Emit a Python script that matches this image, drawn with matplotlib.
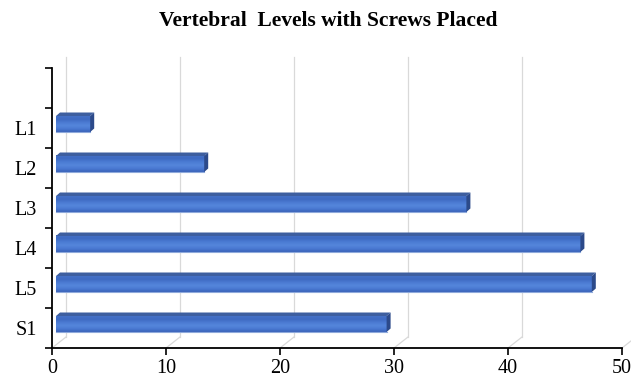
import numpy as np
import matplotlib
matplotlib.use("Agg")
import matplotlib.pyplot as plt
from matplotlib.patches import Polygon
from matplotlib.colors import LinearSegmentedColormap

# Vertebral levels, listed bottom to top, with an empty slot above L1
levels = ["S1", "L5", "L4", "L3", "L2", "L1", ""]
screws = [29, 47, 46, 36, 13, 3, None]
xticks = [0, 10, 20, 30, 40, 50]

serif = ["Liberation Serif", "DejaVu Serif"]

W, H = 631, 378
fig = plt.figure(figsize=(W / 100, H / 100), dpi=100)
ax_left, ax_right = 52 / W, 622 / W
ax_bot, ax_top = (H - 348) / H, (H - 68) / H
ax = fig.add_axes([ax_left, ax_bot, ax_right - ax_left, ax_top - ax_bot])

xmax = 50
nslots = len(levels)
ax.set_xlim(0, xmax)
ax.set_ylim(0, nslots)

px_x = xmax / (622 - 52)          # data units per pixel horizontally
px_y = nslots / (348 - 68)        # slot units per pixel vertically

# back-wall depth offset of the 3D box
wall_dx, wall_dy = 14 * px_x, 11 * px_y
grid_col = "#D9D9D9"
for xv in xticks:
    ax.plot([xv, xv + wall_dx], [0, wall_dy], color=grid_col, lw=0.9,
            clip_on=False, zorder=1)
    ax.plot([xv + wall_dx, xv + wall_dx], [wall_dy, nslots + wall_dy],
            color=grid_col, lw=0.9, clip_on=False, zorder=1)

# bar geometry
bar_ox, bar_oy = 4 * px_x, 4 * px_y       # bar sits part way into the depth
bar_h = 16 * px_y
bar_dx, bar_dy = 4 * px_x, 3.5 * px_y     # bar's own depth

front_cmap = LinearSegmentedColormap.from_list(
    "front", ["#3A63B9", "#4A79D2", "#5586DB", "#4B7BD3", "#3E6AC2", "#4470C6"])
grad = np.linspace(0, 1, 64).reshape(-1, 1)

for i, (lab, v) in enumerate(zip(levels, screws)):
    if v is None:
        continue
    yc = i + 0.5 + bar_oy
    fb, ft = yc - bar_h / 2, yc + bar_h / 2
    x0, x1 = bar_ox, bar_ox + v
    ax.imshow(grad, extent=[x0, x1, ft, fb], cmap=front_cmap, aspect="auto",
              origin="upper", zorder=3, interpolation="bilinear")
    ax.plot([x0, x1], [fb, fb], color="#8EA9DB", lw=0.8, zorder=4)
    top = Polygon([(x0, ft), (x1, ft), (x1 + bar_dx, ft + bar_dy),
                   (x0 + bar_dx, ft + bar_dy)], closed=True,
                  facecolor="#3D5E9F", edgecolor="none", zorder=3)
    side = Polygon([(x1, fb), (x1 + bar_dx, fb + bar_dy),
                    (x1 + bar_dx, ft + bar_dy), (x1, ft)], closed=True,
                   facecolor="#2C4A8A", edgecolor="none", zorder=3)
    ax.add_patch(top)
    ax.add_patch(side)

ax.set_xlim(0, xmax)
ax.set_ylim(0, nslots)

# axes styling
for s in ["top", "right"]:
    ax.spines[s].set_visible(False)
for s in ["left", "bottom"]:
    ax.spines[s].set_color("black")
    ax.spines[s].set_linewidth(1.3)
    ax.spines[s].set_zorder(5)

ax.set_xticks(xticks)
ax.set_xticklabels([str(t) for t in xticks], fontfamily=serif, fontsize=14.5)
ax.set_yticks(np.arange(nslots + 1))
ax.set_yticklabels([])
ax.set_yticks(np.arange(nslots) + 0.5, minor=True)
ax.set_yticklabels(levels, minor=True, fontfamily=serif, fontsize=14.5)
ax.tick_params(axis="y", which="major", length=5, width=1.2, direction="out")
ax.tick_params(axis="y", which="minor", length=0, pad=11)
ax.tick_params(axis="x", which="major", length=5, width=1.2, direction="out", pad=3)

fig.text(0.520, 0.945, "Vertebral  Levels with Screws Placed", ha="center",
         va="center", fontfamily=serif, fontweight="bold", fontsize=15.5)

fig.savefig("out.png", dpi=100, facecolor="white")
